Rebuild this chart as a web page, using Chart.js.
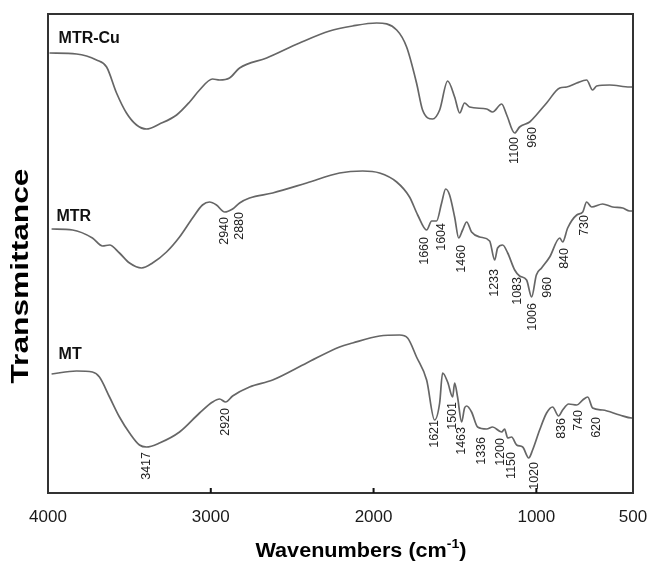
<!DOCTYPE html>
<html><head><meta charset="utf-8">
<script src="https://cdn.jsdelivr.net/npm/chart.js@4/dist/chart.umd.min.js"></script>
<style>html,body{margin:0;padding:0;background:#fff}#wrap{width:653px;height:562px;position:relative}</style>
</head><body><div id="wrap"><canvas id="c"></canvas></div>
<script>
// ---- data (wavenumber cm-1, relative transmittance with vertical offsets) ----
const tickWaves = [4000, 3000, 2000, 1000, 500];

const mtrCuWave = [3991,3825,3702,3640,3579,3518,3456,3395,3315,3210,3130,3069,2989,2946,2885,2823,2657,2455,2270,2129,1981,1858,1797,1736,1699,1637,1594,1545,1502,1471,1441,1410,1305,1269,1213,1182,1133,1103,1041,1000,947,879,843,791,740,709,688,621,517,500];
const mtrCuT = [440,439,433,426,400,380,368,364,369,378,391,403,414,413,415,425,435,450,462,467,470,463,446,410,383,374,383,412,396,380,390,386,384,381,389,378,360,366,371,378,390,405,406,410,413,403,407,408,406,406];

const mtrWave = [3978,3849,3727,3665,3622,3561,3499,3425,3358,3272,3192,3112,3051,3008,2965,2915,2866,2823,2762,2620,2411,2209,2067,1963,1858,1779,1729,1674,1643,1613,1582,1557,1533,1502,1477,1453,1428,1398,1348,1287,1256,1238,1207,1176,1133,1103,1060,1029,1000,973,931,879,864,838,791,760,740,714,657,605,553,517,500];
const mtrT = [264,263,255,247,248,240,230,225,230,241,256,275,288,291,288,281,284,290,295,300,310,320,322,320,311,296,278,263,272,272,290,304,298,276,255,263,271,261,256,252,233,245,248,240,223,217,213,196,218,225,236,255,251,265,278,281,291,286,289,286,285,282,282];

const mtWave = [3978,3825,3727,3684,3622,3561,3499,3438,3395,3315,3192,3069,2989,2946,2909,2866,2762,2620,2411,2209,2129,1963,1840,1791,1736,1674,1625,1594,1576,1545,1514,1502,1484,1459,1441,1428,1398,1361,1305,1269,1213,1195,1176,1152,1121,1084,1047,1023,983,947,916,885,864,833,791,760,734,709,657,569,507,500];
const mtT = [119,122,121,116,96,76,60,48,46,50,61,80,91,94,91,97,106,113,130,146,150,157,158,155,136,113,73,90,120,111,96,110,96,71,85,87,81,66,64,66,61,64,55,56,48,46,35,43,63,80,86,77,83,89,88,93,96,85,83,78,75,75];

const seriesNames = ['MTR-Cu', 'MTR', 'MT'];
const nameAtWave = [3935, 3948, 3935];
const nameAtT = [450, 272, 134];

const cuPeakLabels = ['1100','960'];
const cuPeakAt = [1133,1023];
const cuPeakTop = [356,366];

const mtrPeakLabels = ['2940','2880','1660','1604','1460','1233','1083','1006','960','840','730'];
const mtrPeakAt = [2915,2823,1686,1582,1459,1256,1115,1023,942,854,750];
const mtrPeakTop = [276,281,256,270,248,224,216,190,216,245,278];

const mtPeakLabels = ['3417','2920','1621','1501','1463','1336','1200','1150','1020','836','740','620'];
const mtPeakAt = [3395,2909,1625,1514,1459,1336,1219,1152,1010,869,781,688];
const mtPeakTop = [41,85,73,91,66,56,55,41,31,75,83,76];

// ---- axis: the original axis is expanded below 1000 cm-1 ----
const SPLIT_RATIO = 1.1875;
const toAxis = w => w >= 1000 ? 4000 - w : 3000 + (1000 - w) * SPLIT_RATIO;
const fromAxis = u => u <= 3000 ? 4000 - u : 1000 - (u - 3000) / SPLIT_RATIO;

const FONT = '"Liberation Sans", Arial, Helvetica, sans-serif';
const lineColor = '#666666';

function series(wave, t) { return wave.map((w, i) => ({x: toAxis(w), y: t[i]})); }

function stretchedText(ctx, text, cx, cy, targetW, rot) {
  const w = ctx.measureText(text).width;
  ctx.save();
  ctx.translate(cx, cy);
  if (rot) ctx.rotate(rot);
  ctx.scale(targetW / w, 1);
  ctx.textAlign = 'center';
  ctx.fillText(text, 0, 0);
  ctx.restore();
}

const decor = {
  id: 'decor',
  afterDatasetsDraw(chart) {
    const {ctx, chartArea: a, scales: {x, y}} = chart;
    ctx.save();
    // frame
    ctx.strokeStyle = '#333';
    ctx.lineWidth = 2;
    ctx.strokeRect(a.left, a.top, a.right - a.left, a.bottom - a.top);
    // inward tick marks
    ctx.fillStyle = '#111';
    [3000, 2000, 1000].forEach(w => {
      const px = x.getPixelForValue(toAxis(w));
      ctx.fillRect(px - 1, a.bottom - 5, 2, 5);
    });
    // series names
    ctx.fillStyle = '#111';
    ctx.font = 'bold 16px ' + FONT;
    ctx.textAlign = 'left';
    ctx.textBaseline = 'alphabetic';
    seriesNames.forEach((n, i) => {
      ctx.fillText(n, x.getPixelForValue(toAxis(nameAtWave[i])), y.getPixelForValue(nameAtT[i]));
    });
    // peak labels (vertical)
    ctx.font = '12.5px ' + FONT;
    ctx.fillStyle = '#222';
    ctx.textAlign = 'right';
    ctx.textBaseline = 'middle';
    const groups = [[cuPeakLabels, cuPeakAt, cuPeakTop], [mtrPeakLabels, mtrPeakAt, mtrPeakTop], [mtPeakLabels, mtPeakAt, mtPeakTop]];
    groups.forEach(([labs, at, top]) => {
      labs.forEach((t, i) => {
        ctx.save();
        ctx.translate(x.getPixelForValue(toAxis(at[i])), y.getPixelForValue(top[i]));
        ctx.rotate(-Math.PI / 2);
        ctx.fillText(t, 0, 0);
        ctx.restore();
      });
    });
    // y title
    ctx.fillStyle = '#000';
    ctx.font = 'bold 23px ' + FONT;
    ctx.textBaseline = 'middle';
    stretchedText(ctx, 'Transmittance', 22, 276, 215, -Math.PI / 2);
    // x title with superscript
    ctx.textBaseline = 'alphabetic';
    ctx.textAlign = 'left';
    const main = 'Wavenumbers (cm', sup = '-1', close = ')';
    ctx.font = 'bold 20px ' + FONT;
    const w1 = ctx.measureText(main).width, w3 = ctx.measureText(close).width;
    ctx.font = 'bold 13px ' + FONT;
    const w2 = ctx.measureText(sup).width;
    const total = w1 + w2 + w3;
    const target = 211, sx = target / total;
    ctx.save();
    ctx.translate(361 - target / 2, 557);
    ctx.scale(sx, 1);
    ctx.font = 'bold 20px ' + FONT;
    ctx.fillText(main, 0, 0);
    ctx.font = 'bold 13px ' + FONT;
    ctx.fillText(sup, w1, -9);
    ctx.font = 'bold 20px ' + FONT;
    ctx.fillText(close, w1 + w2, 0);
    ctx.restore();
    ctx.restore();
  }
};

const ds = (label, wave, t) => ({
  label, data: series(wave, t), borderColor: lineColor, borderWidth: 1.7,
  pointRadius: 0, cubicInterpolationMode: 'monotone', fill: false
});

new Chart(document.getElementById('c'), {
  type: 'line',
  data: { datasets: [ds('MTR-Cu', mtrCuWave, mtrCuT), ds('MTR', mtrWave, mtrT), ds('MT', mtWave, mtT)] },
  options: {
    responsive: true, maintainAspectRatio: false, animation: false,
    layout: { padding: { left: 48, right: 20, top: 14, bottom: 0 } },
    plugins: { legend: { display: false }, tooltip: { enabled: false } },
    scales: {
      x: {
        type: 'linear', min: toAxis(4000), max: toAxis(500),
        afterBuildTicks: s => { s.ticks = tickWaves.map(w => ({ value: toAxis(w) })); },
        afterFit: s => { s.height = 69; s.paddingLeft = 0; s.paddingRight = 0; },
        grid: { display: false, drawTicks: false },
        border: { display: false },
        ticks: {
          autoSkip: false, maxRotation: 0, padding: 14, color: '#1a1a1a',
          font: { size: 17, family: FONT },
          callback: v => String(Math.round(fromAxis(v)))
        }
      },
      y: { type: 'linear', min: 0, max: 479, display: false }
    }
  },
  plugins: [decor]
});
</script>
</body></html>
